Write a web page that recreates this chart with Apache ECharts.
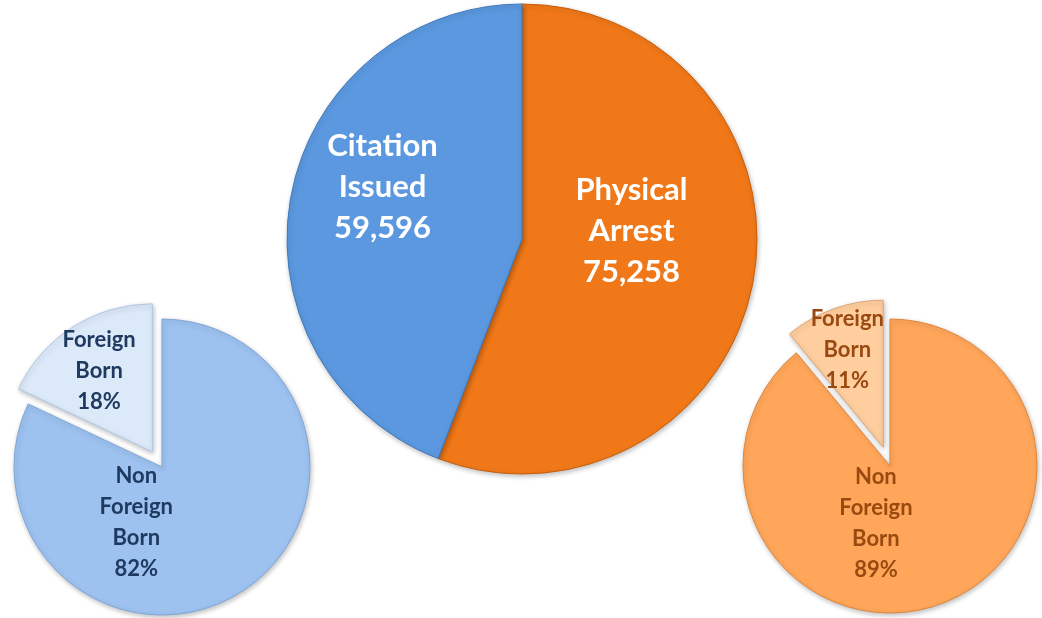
<!DOCTYPE html>
<html>
<head>
<meta charset="utf-8">
<script src="https://cdn.jsdelivr.net/npm/echarts@6/dist/echarts.min.js"></script>
<style>
  html, body { margin: 0; padding: 0; background: #ffffff; }
  #chart { width: 1042px; height: 618px; }
</style>
</head>
<body>
<div id="chart"></div>
<script>
// Arrest outcomes and nativity breakdown
const outcomeNames = ['Physical\nArrest', 'Citation\nIssued'];
const outcomeValues = [75258, 59596];

const citationNames = ['Non\nForeign\nBorn', 'Foreign\nBorn'];
const citationPercents = [82, 18];

const arrestNames = ['Non\nForeign\nBorn', 'Foreign\nBorn'];
const arrestPercents = [89, 11];

const FONT = 'Lato, "Open Sans", sans-serif';

function fmt(n) { return n.toLocaleString('en-US'); }

function shade(color, border) {
  return {
    color: color,
    borderColor: border,
    borderWidth: 1,
    shadowBlur: 5,
    shadowOffsetX: 1,
    shadowOffsetY: 2,
    shadowColor: 'rgba(0,0,0,0.25)'
  };
}

const chart = echarts.init(document.getElementById('chart'), null, { renderer: 'canvas' });

const mainStyles = [
  { item: shade('#F07818', '#C65E0C'), offset: [-9, -30] },
  { item: shade('#5B98DF', '#3F78BC'), offset: [-21, -30] }
];
const leftStyles = [
  { item: shade('#9DC2F0', '#7FA6D6'), offset: [-67, -10] },
  { item: shade('#DCE9F9', '#AFC7E4'), offset: [-12, -16], selected: true }
];
const rightStyles = [
  { item: shade('#FFA65A', '#E0853A'), offset: [-40, -15] },
  { item: shade('#FFCE9E', '#E0A574'), offset: [-10, -25], selected: true }
];

function buildData(names, values, styles, labelFn) {
  return names.map((n, i) => ({
    name: n,
    value: values[i],
    selected: !!styles[i].selected,
    itemStyle: styles[i].item,
    label: { offset: styles[i].offset, formatter: labelFn(n, values[i]) },
    // the exploded slice keeps its label offset in the selected state too
    select: { itemStyle: styles[i].item, label: { offset: styles[i].offset } }
  }));
}

const option = {
  animation: false,
  series: [
    {
      type: 'pie',
      center: [522, 239],
      radius: 235,
      startAngle: 90,
      clockwise: true,
      silent: true,
      label: {
        show: true,
        position: 'inside',
        color: '#ffffff',
        fontFamily: FONT,
        fontWeight: 'bold',
        fontSize: 31,
        lineHeight: 41,
        align: 'center'
      },
      labelLine: { show: false },
      data: buildData(outcomeNames, outcomeValues, mainStyles, (n, v) => n + '\n' + fmt(v))
    },
    {
      type: 'pie',
      center: [162, 467],
      radius: 148,
      startAngle: 90,
      clockwise: true,
      silent: true,
      selectedMode: 'multiple',
      selectedOffset: 18,
      label: {
        show: true,
        position: 'inside',
        color: '#1F3A60',
        fontFamily: FONT,
        fontWeight: 'bold',
        fontSize: 22,
        lineHeight: 31,
        align: 'center'
      },
      labelLine: { show: false },
      data: buildData(citationNames, citationPercents, leftStyles, (n, v) => n + '\n' + v + '%')
    },
    {
      type: 'pie',
      center: [890, 466],
      radius: 147,
      startAngle: 90,
      clockwise: true,
      silent: true,
      selectedMode: 'multiple',
      selectedOffset: 20,
      label: {
        show: true,
        position: 'inside',
        color: '#9A4A10',
        fontFamily: FONT,
        fontWeight: 'bold',
        fontSize: 22,
        lineHeight: 31,
        align: 'center'
      },
      labelLine: { show: false },
      data: buildData(arrestNames, arrestPercents, rightStyles, (n, v) => n + '\n' + v + '%')
    }
  ]
};

chart.setOption(option);
</script>
</body>
</html>
